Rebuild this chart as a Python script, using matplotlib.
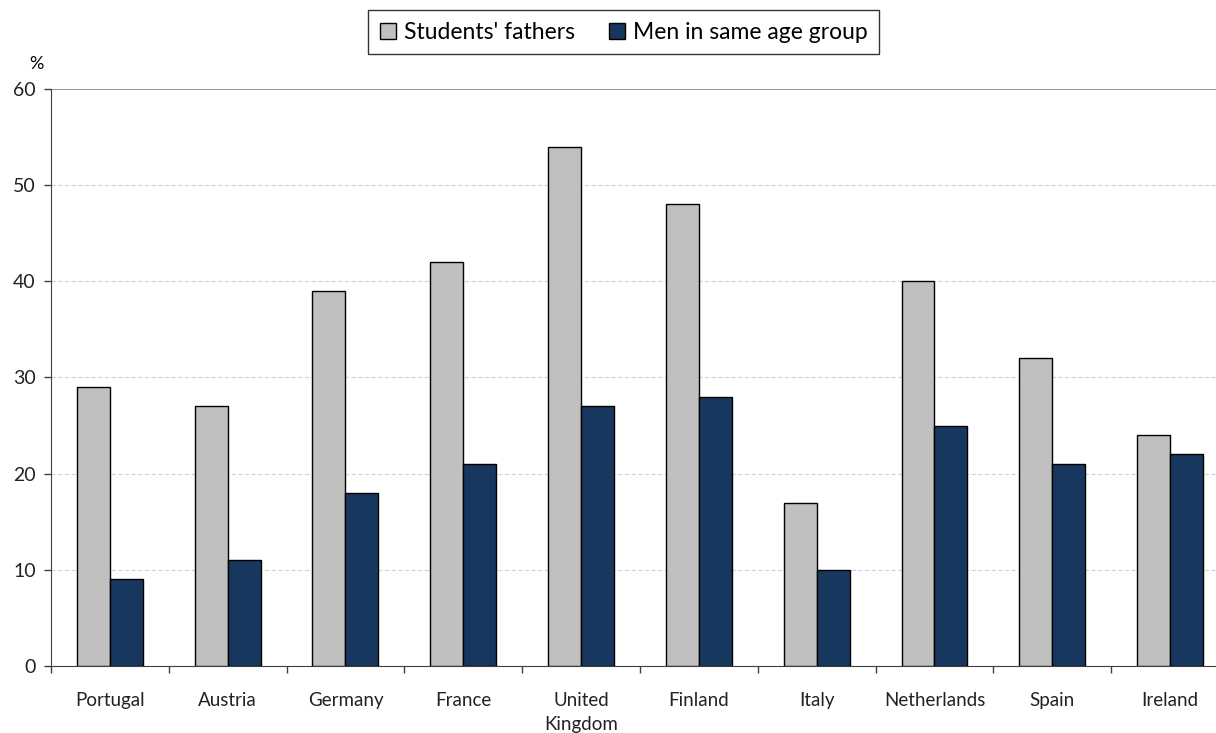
import numpy as np
import matplotlib.pyplot as plt

plt.rcParams['font.family'] = ['Lato', 'DejaVu Sans']

countries = ['Portugal', 'Austria', 'Germany', 'France', 'United\nKingdom',
             'Finland', 'Italy', 'Netherlands', 'Spain', 'Ireland']
fathers = [29, 27, 39, 42, 54, 48, 17, 40, 32, 24]
men_same_age = [9, 11, 18, 21, 27, 28, 10, 25, 21, 22]

fig = plt.figure(figsize=(12.16, 7.33), dpi=100)
ax = fig.add_axes([0.0419, 0.0914, 0.9688, 0.7872])

x = np.arange(len(countries))
w = 0.28
ax.bar(x - w / 2, fathers, w, color='#C0C0C0', edgecolor='black', linewidth=1,
       label="Students' fathers", zorder=3)
ax.bar(x + w / 2, men_same_age, w, color='#17375E', edgecolor='black', linewidth=1,
       label='Men in same age group', zorder=3)

ax.set_xlim(-0.5, len(countries) - 0.5)
ax.set_ylim(0, 60)
ax.set_yticks(range(0, 61, 10))
ax.yaxis.grid(True, linestyle=(0, (4, 2)), color='#C6D4EE', linewidth=0.8, zorder=0)
ax.axhline(60, color='#8C8C8C', linewidth=1.2, zorder=2)

# category labels centred, tick marks on the boundaries
ax.set_xticks(x)
ax.set_xticklabels(countries, fontsize=13.5, color='#222222', va='top', linespacing=1.45)
ax.tick_params(axis='x', length=0, pad=19)
ax.set_xticks(np.arange(len(countries) + 1) - 0.5, minor=True)
ax.tick_params(axis='x', which='minor', length=5, width=1, color='#404040', direction='out')
ax.tick_params(axis='y', length=5, width=1, color='#404040', labelsize=14, pad=6, labelcolor='#222222')

for s in ['top', 'right']:
    ax.spines[s].set_visible(False)
ax.spines['left'].set_color('#404040')
ax.spines['bottom'].set_color('#404040')

ax.text(-0.006, 1.03, '%', transform=ax.transAxes, ha='right', va='bottom', fontsize=13)

leg = fig.legend(loc='upper center', bbox_to_anchor=(0.513, 0.986), ncol=2, fontsize=16.5,
                 frameon=True, fancybox=False, edgecolor='black', handlelength=0.7,
                 handleheight=0.7, handletextpad=0.35, columnspacing=1.5,
                 borderpad=0.5, borderaxespad=0)
leg.get_frame().set_linewidth(1)

fig.savefig('out.png', dpi=100)
